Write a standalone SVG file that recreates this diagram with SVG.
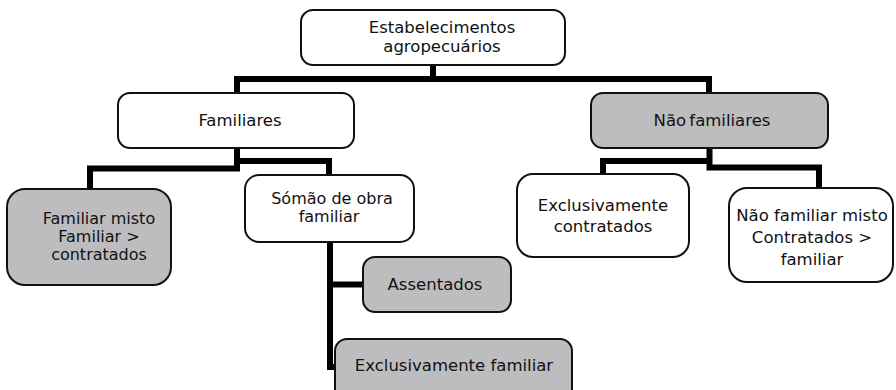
<svg xmlns="http://www.w3.org/2000/svg" width="896" height="390" viewBox="0 0 896 390">
<style>
.box{fill:#ffffff;stroke:#111111;stroke-width:2}
.grey{fill:#bdbdbf;stroke:#111111;stroke-width:2}
.lbl{font-family:"DejaVu Sans","Liberation Sans",sans-serif;font-size:16.5px;fill:#111111;text-anchor:middle}
.tight{font-size:16px}
.conn{fill:none;stroke:#000000;stroke-width:6;stroke-linejoin:miter;stroke-linecap:butt}
</style>
<rect width="896" height="390" fill="#ffffff"/>
<g id="connectors">
<path class="conn" d="M237 93 V79 H709 V93"/>
<path class="conn" d="M433 65 V79"/>
<path class="conn" d="M237 148 V168.5 H90 V189"/>
<path class="conn" d="M237 161 H329 V175"/>
<path class="conn" d="M709.5 148 V167.5 H819 V188"/>
<path class="conn" d="M709.5 161 H603 V174"/>
<path class="conn" d="M330 242 V367 H336"/>
<path class="conn" d="M330 284.5 H364"/>
</g>
<g id="n-estabelecimentos">
<rect class="box" x="301" y="10" width="264" height="55" rx="12"/>
<text class="lbl" x="442" y="33">Estabelecimentos</text>
<text class="lbl" x="442" y="52">agropecuários</text>
</g>
<g id="n-familiares">
<rect class="box" x="118" y="93" width="236" height="55" rx="12"/>
<text class="lbl" x="240" y="126">Familiares</text>
</g>
<g id="n-naofamiliares">
<rect class="grey" x="591" y="93" width="237" height="55" rx="12"/>
<text class="lbl" x="712" y="126" word-spacing="-2">Não familiares</text>
</g>
<g id="n-familiarmisto">
<rect class="grey" x="7" y="189" width="164" height="96" rx="18"/>
<text class="lbl tight" x="99" y="224">Familiar misto</text>
<text class="lbl tight" x="99" y="242">Familiar &gt;</text>
<text class="lbl tight" x="99" y="260">contratados</text>
</g>
<g id="n-somao">
<rect class="box" x="245" y="175" width="169" height="67" rx="14"/>
<text class="lbl tight" x="332" y="204">Sómão de obra</text>
<text class="lbl tight" x="329" y="222">familiar</text>
</g>
<g id="n-assentados">
<rect class="grey" x="363" y="257" width="148" height="55" rx="12"/>
<text class="lbl" x="435" y="290">Assentados</text>
</g>
<g id="n-exclusivamentefamiliar">
<rect class="grey" x="335" y="339" width="237" height="66" rx="12"/>
<text class="lbl" x="454" y="371">Exclusivamente familiar</text>
</g>
<g id="n-exclusivamentecontratados">
<rect class="box" x="517" y="174" width="172" height="83" rx="16"/>
<text class="lbl" x="603" y="211">Exclusivamente</text>
<text class="lbl" x="603" y="232">contratados</text>
</g>
<g id="n-naofamiliarmisto">
<rect class="box" x="729" y="188" width="164" height="94" rx="18"/>
<text class="lbl" x="812" y="221">Não familiar misto</text>
<text class="lbl" x="812" y="243">Contratados &gt;</text>
<text class="lbl" x="812" y="265">familiar</text>
</g>
</svg>
